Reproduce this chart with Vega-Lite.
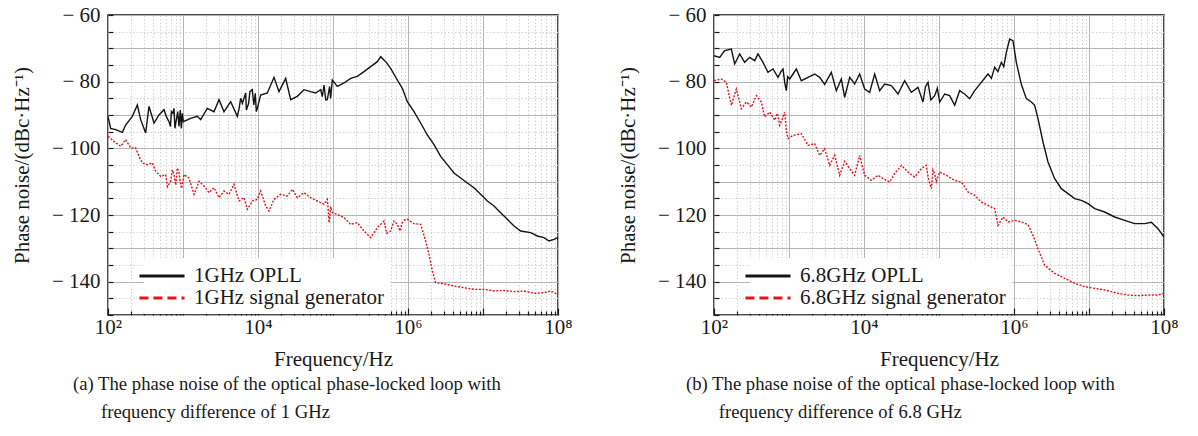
{
  "$schema": "https://vega.github.io/schema/vega-lite/v6.json",
  "background": "white",
  "padding": {"left": 10, "top": 3, "right": 0, "bottom": 0},
  "spacing": 43,
  "resolve": {"scale": {"color": "independent", "strokeDash": "independent"}, "legend": {"color": "independent", "strokeDash": "independent"}},
  "config": {
    "view": {"stroke": "#111111", "strokeWidth": 1.5},
    "font": "Liberation Serif",
    "axis": {
      "labelFont": "Liberation Serif", "labelFontSize": 21, "labelColor": "#1a1a1a",
      "titleFont": "Liberation Serif", "titleFontSize": 21, "titleFontWeight": "normal", "titleColor": "#1a1a1a",
      "domain": false, "labelOverlap": false, "labelBound": false, "labelFlush": false,
      "tickColor": "#1a1a1a", "tickWidth": 1.2
    },
    "legend": {
      "orient": "none", "legendX": 36, "legendY": 243, "fillColor": "white", "padding": 6,
      "symbolType": "M-2.2,0H2.2", "symbolSize": 420, "symbolStrokeWidth": 3, "symbolOpacity": 1,
      "labelFont": "Liberation Serif", "labelFontSize": 21, "labelColor": "#1a1a1a",
      "labelOffset": 20, "rowPadding": 0, "title": null, "labelLimit": 400
    },
    "title": {"font": "Liberation Serif", "fontSize": 18.7, "fontWeight": "normal", "color": "#1a1a1a"}
  },
  "datasets": {
    "a": [
      {"f":100,"pn":-90.4,"s":"1GHz OPLL"},{"f":108.5,"pn":-94,"s":"1GHz OPLL"},{"f":126.6,"pn":-94.4,"s":"1GHz OPLL"},{"f":155.3,"pn":-95.2,"s":"1GHz OPLL"},{"f":172,"pn":-93,"s":"1GHz OPLL"},{"f":211.1,"pn":-90.4,"s":"1GHz OPLL"},{"f":246.1,"pn":-87,"s":"1GHz OPLL"},{"f":272.6,"pn":-91.4,"s":"1GHz OPLL"},{"f":317.8,"pn":-95.4,"s":"1GHz OPLL"},{"f":352.2,"pn":-87.4,"s":"1GHz OPLL"},{"f":410.6,"pn":-92.4,"s":"1GHz OPLL"},{"f":478.6,"pn":-90,"s":"1GHz OPLL"},{"f":558,"pn":-88.4,"s":"1GHz OPLL"},{"f":600,"pn":-90.5,"s":"1GHz OPLL"},{"f":650.6,"pn":-92,"s":"1GHz OPLL"},{"f":680,"pn":-93.5,"s":"1GHz OPLL"},{"f":700,"pn":-89,"s":"1GHz OPLL"},{"f":730,"pn":-89.5,"s":"1GHz OPLL"},{"f":758.6,"pn":-88,"s":"1GHz OPLL"},{"f":780,"pn":-94,"s":"1GHz OPLL"},{"f":800,"pn":-92.5,"s":"1GHz OPLL"},{"f":850,"pn":-89,"s":"1GHz OPLL"},{"f":884.6,"pn":-93.4,"s":"1GHz OPLL"},{"f":920,"pn":-88.5,"s":"1GHz OPLL"},{"f":950,"pn":-94,"s":"1GHz OPLL"},{"f":980,"pn":-89.5,"s":"1GHz OPLL"},{"f":1010,"pn":-92,"s":"1GHz OPLL"},{"f":1266,"pn":-91,"s":"1GHz OPLL"},{"f":1553,"pn":-90.4,"s":"1GHz OPLL"},{"f":1720,"pn":-91.4,"s":"1GHz OPLL"},{"f":2111,"pn":-88,"s":"1GHz OPLL"},{"f":2590,"pn":-89,"s":"1GHz OPLL"},{"f":3020,"pn":-85.4,"s":"1GHz OPLL"},{"f":3522,"pn":-89,"s":"1GHz OPLL"},{"f":4321,"pn":-86,"s":"1GHz OPLL"},{"f":5303,"pn":-90.4,"s":"1GHz OPLL"},{"f":5600,"pn":-88,"s":"1GHz OPLL"},{"f":5872,"pn":-85,"s":"1GHz OPLL"},{"f":6200,"pn":-86.5,"s":"1GHz OPLL"},{"f":6848,"pn":-83.4,"s":"1GHz OPLL"},{"f":7000,"pn":-88.5,"s":"1GHz OPLL"},{"f":7500,"pn":-86.5,"s":"1GHz OPLL"},{"f":7800,"pn":-83,"s":"1GHz OPLL"},{"f":8403,"pn":-82.4,"s":"1GHz OPLL"},{"f":8800,"pn":-87,"s":"1GHz OPLL"},{"f":9200,"pn":-83.5,"s":"1GHz OPLL"},{"f":9500,"pn":-89,"s":"1GHz OPLL"},{"f":9797,"pn":-88,"s":"1GHz OPLL"},{"f":10850,"pn":-84,"s":"1GHz OPLL"},{"f":13320,"pn":-83.4,"s":"1GHz OPLL"},{"f":16340,"pn":-78.7,"s":"1GHz OPLL"},{"f":19050,"pn":-83,"s":"1GHz OPLL"},{"f":23380,"pn":-79,"s":"1GHz OPLL"},{"f":27260,"pn":-85.4,"s":"1GHz OPLL"},{"f":33450,"pn":-84.4,"s":"1GHz OPLL"},{"f":41060,"pn":-82.4,"s":"1GHz OPLL"},{"f":50370,"pn":-83,"s":"1GHz OPLL"},{"f":58720,"pn":-83.4,"s":"1GHz OPLL"},{"f":68480,"pn":-82.4,"s":"1GHz OPLL"},{"f":72000,"pn":-84.5,"s":"1GHz OPLL"},{"f":76000,"pn":-81,"s":"1GHz OPLL"},{"f":80000,"pn":-85.5,"s":"1GHz OPLL"},{"f":84030,"pn":-85.4,"s":"1GHz OPLL"},{"f":90000,"pn":-81.5,"s":"1GHz OPLL"},{"f":93000,"pn":-85,"s":"1GHz OPLL"},{"f":97970,"pn":-79.5,"s":"1GHz OPLL"},{"f":114200,"pn":-81.4,"s":"1GHz OPLL"},{"f":140200,"pn":-80.4,"s":"1GHz OPLL"},{"f":172000,"pn":-79,"s":"1GHz OPLL"},{"f":211100,"pn":-78.4,"s":"1GHz OPLL"},{"f":259000,"pn":-77,"s":"1GHz OPLL"},{"f":317800,"pn":-75.5,"s":"1GHz OPLL"},{"f":390000,"pn":-74,"s":"1GHz OPLL"},{"f":432100,"pn":-72.5,"s":"1GHz OPLL"},{"f":503700,"pn":-74,"s":"1GHz OPLL"},{"f":587200,"pn":-76,"s":"1GHz OPLL"},{"f":720800,"pn":-79.5,"s":"1GHz OPLL"},{"f":840300,"pn":-82,"s":"1GHz OPLL"},{"f":979700,"pn":-86,"s":"1GHz OPLL"},{"f":1202000,"pn":-89,"s":"1GHz OPLL"},{"f":1475000,"pn":-92.4,"s":"1GHz OPLL"},{"f":1810000,"pn":-96,"s":"1GHz OPLL"},{"f":2222000,"pn":-98.9,"s":"1GHz OPLL"},{"f":2726000,"pn":-102.4,"s":"1GHz OPLL"},{"f":3345000,"pn":-104.9,"s":"1GHz OPLL"},{"f":4106000,"pn":-107.4,"s":"1GHz OPLL"},{"f":5037000,"pn":-108.9,"s":"1GHz OPLL"},{"f":6182000,"pn":-110.4,"s":"1GHz OPLL"},{"f":7586000,"pn":-111.8,"s":"1GHz OPLL"},{"f":9310000,"pn":-113.8,"s":"1GHz OPLL"},{"f":11420000,"pn":-115.8,"s":"1GHz OPLL"},{"f":14020000,"pn":-117.3,"s":"1GHz OPLL"},{"f":17200000,"pn":-119.3,"s":"1GHz OPLL"},{"f":21110000,"pn":-121.3,"s":"1GHz OPLL"},{"f":25900000,"pn":-123.3,"s":"1GHz OPLL"},{"f":31780000,"pn":-124.8,"s":"1GHz OPLL"},{"f":43210000,"pn":-125.3,"s":"1GHz OPLL"},{"f":53030000,"pn":-126.3,"s":"1GHz OPLL"},{"f":65060000,"pn":-126.8,"s":"1GHz OPLL"},{"f":75860000,"pn":-127.8,"s":"1GHz OPLL"},{"f":88460000,"pn":-127.3,"s":"1GHz OPLL"},{"f":97970000,"pn":-126.8,"s":"1GHz OPLL"},{"f":100000000,"pn":-127.5,"s":"1GHz OPLL"},
      {"f":100,"pn":-96.4,"s":"1GHz signal generator"},{"f":120.2,"pn":-97.9,"s":"1GHz signal generator"},{"f":147.5,"pn":-99.4,"s":"1GHz signal generator"},{"f":172,"pn":-97.4,"s":"1GHz signal generator"},{"f":200.5,"pn":-99.9,"s":"1GHz signal generator"},{"f":233.8,"pn":-99.9,"s":"1GHz signal generator"},{"f":259,"pn":-102.4,"s":"1GHz signal generator"},{"f":287,"pn":-104.4,"s":"1GHz signal generator"},{"f":334.5,"pn":-104.9,"s":"1GHz signal generator"},{"f":390,"pn":-104.4,"s":"1GHz signal generator"},{"f":432.1,"pn":-106.9,"s":"1GHz signal generator"},{"f":503.7,"pn":-108.4,"s":"1GHz signal generator"},{"f":587.2,"pn":-107.9,"s":"1GHz signal generator"},{"f":620,"pn":-111.5,"s":"1GHz signal generator"},{"f":684.8,"pn":-109.9,"s":"1GHz signal generator"},{"f":720,"pn":-106.5,"s":"1GHz signal generator"},{"f":758.6,"pn":-107.9,"s":"1GHz signal generator"},{"f":800,"pn":-111,"s":"1GHz signal generator"},{"f":840.3,"pn":-105.9,"s":"1GHz signal generator"},{"f":880,"pn":-107,"s":"1GHz signal generator"},{"f":931,"pn":-110.8,"s":"1GHz signal generator"},{"f":960,"pn":-112,"s":"1GHz signal generator"},{"f":1031,"pn":-107.9,"s":"1GHz signal generator"},{"f":1202,"pn":-108.9,"s":"1GHz signal generator"},{"f":1402,"pn":-113.8,"s":"1GHz signal generator"},{"f":1634,"pn":-109.9,"s":"1GHz signal generator"},{"f":1905,"pn":-111.3,"s":"1GHz signal generator"},{"f":2222,"pn":-113.3,"s":"1GHz signal generator"},{"f":2590,"pn":-111.8,"s":"1GHz signal generator"},{"f":3020,"pn":-114.8,"s":"1GHz signal generator"},{"f":3522,"pn":-112.8,"s":"1GHz signal generator"},{"f":4106,"pn":-113.8,"s":"1GHz signal generator"},{"f":4786,"pn":-110.8,"s":"1GHz signal generator"},{"f":5580,"pn":-115.8,"s":"1GHz signal generator"},{"f":6506,"pn":-114.8,"s":"1GHz signal generator"},{"f":7208,"pn":-118.3,"s":"1GHz signal generator"},{"f":8403,"pn":-115.8,"s":"1GHz signal generator"},{"f":9797,"pn":-115.3,"s":"1GHz signal generator"},{"f":10850,"pn":-112.8,"s":"1GHz signal generator"},{"f":12660,"pn":-117.3,"s":"1GHz signal generator"},{"f":14020,"pn":-118.8,"s":"1GHz signal generator"},{"f":16340,"pn":-115.3,"s":"1GHz signal generator"},{"f":20050,"pn":-113.8,"s":"1GHz signal generator"},{"f":24610,"pn":-114.3,"s":"1GHz signal generator"},{"f":28700,"pn":-112.3,"s":"1GHz signal generator"},{"f":33450,"pn":-114.8,"s":"1GHz signal generator"},{"f":41060,"pn":-113.3,"s":"1GHz signal generator"},{"f":50370,"pn":-114.8,"s":"1GHz signal generator"},{"f":61820,"pn":-115.8,"s":"1GHz signal generator"},{"f":75860,"pn":-116.8,"s":"1GHz signal generator"},{"f":84030,"pn":-115.3,"s":"1GHz signal generator"},{"f":86000,"pn":-118,"s":"1GHz signal generator"},{"f":88460,"pn":-122.3,"s":"1GHz signal generator"},{"f":90000,"pn":-121.5,"s":"1GHz signal generator"},{"f":93000,"pn":-117.5,"s":"1GHz signal generator"},{"f":97970,"pn":-119.3,"s":"1GHz signal generator"},{"f":114200,"pn":-119.8,"s":"1GHz signal generator"},{"f":140200,"pn":-120.8,"s":"1GHz signal generator"},{"f":172000,"pn":-122.8,"s":"1GHz signal generator"},{"f":211100,"pn":-122.3,"s":"1GHz signal generator"},{"f":259000,"pn":-124.8,"s":"1GHz signal generator"},{"f":317800,"pn":-126.8,"s":"1GHz signal generator"},{"f":390000,"pn":-123.8,"s":"1GHz signal generator"},{"f":478600,"pn":-121.8,"s":"1GHz signal generator"},{"f":520000,"pn":-125.5,"s":"1GHz signal generator"},{"f":587200,"pn":-124.8,"s":"1GHz signal generator"},{"f":650000,"pn":-121.8,"s":"1GHz signal generator"},{"f":720800,"pn":-122.8,"s":"1GHz signal generator"},{"f":780000,"pn":-124.8,"s":"1GHz signal generator"},{"f":840300,"pn":-122.3,"s":"1GHz signal generator"},{"f":900000,"pn":-121.5,"s":"1GHz signal generator"},{"f":979700,"pn":-121.3,"s":"1GHz signal generator"},{"f":1202000,"pn":-122.6,"s":"1GHz signal generator"},{"f":1475000,"pn":-122.8,"s":"1GHz signal generator"},{"f":1720000,"pn":-127.8,"s":"1GHz signal generator"},{"f":1905000,"pn":-131.8,"s":"1GHz signal generator"},{"f":2111000,"pn":-136.8,"s":"1GHz signal generator"},{"f":2338000,"pn":-140.3,"s":"1GHz signal generator"},{"f":3020000,"pn":-140.6,"s":"1GHz signal generator"},{"f":4106000,"pn":-141.3,"s":"1GHz signal generator"},{"f":5580000,"pn":-141.8,"s":"1GHz signal generator"},{"f":7586000,"pn":-142.3,"s":"1GHz signal generator"},{"f":10310000,"pn":-142.3,"s":"1GHz signal generator"},{"f":14020000,"pn":-142.8,"s":"1GHz signal generator"},{"f":19050000,"pn":-142.6,"s":"1GHz signal generator"},{"f":25900000,"pn":-143,"s":"1GHz signal generator"},{"f":35220000,"pn":-142.8,"s":"1GHz signal generator"},{"f":47860000,"pn":-143.5,"s":"1GHz signal generator"},{"f":65060000,"pn":-143.3,"s":"1GHz signal generator"},{"f":79860000,"pn":-142.8,"s":"1GHz signal generator"},{"f":97970000,"pn":-143.7,"s":"1GHz signal generator"},{"f":100000000,"pn":-143.5,"s":"1GHz signal generator"}
    ],
    "b": [
      {"f":100,"pn":-72.2,"s":"6.8GHz OPLL"},{"f":119,"pn":-72.7,"s":"6.8GHz OPLL"},{"f":138.8,"pn":-70.7,"s":"6.8GHz OPLL"},{"f":170.3,"pn":-70.2,"s":"6.8GHz OPLL"},{"f":188.6,"pn":-74.7,"s":"6.8GHz OPLL"},{"f":219.9,"pn":-71.7,"s":"6.8GHz OPLL"},{"f":256.4,"pn":-74.2,"s":"6.8GHz OPLL"},{"f":298.9,"pn":-72.7,"s":"6.8GHz OPLL"},{"f":348.5,"pn":-73.7,"s":"6.8GHz OPLL"},{"f":386.1,"pn":-71.7,"s":"6.8GHz OPLL"},{"f":450.2,"pn":-74.2,"s":"6.8GHz OPLL"},{"f":524.8,"pn":-77.2,"s":"6.8GHz OPLL"},{"f":611.8,"pn":-76.2,"s":"6.8GHz OPLL"},{"f":713.4,"pn":-78.7,"s":"6.8GHz OPLL"},{"f":780,"pn":-77,"s":"6.8GHz OPLL"},{"f":831.8,"pn":-76.2,"s":"6.8GHz OPLL"},{"f":880,"pn":-80.5,"s":"6.8GHz OPLL"},{"f":921.3,"pn":-82.7,"s":"6.8GHz OPLL"},{"f":960,"pn":-78.5,"s":"6.8GHz OPLL"},{"f":1021,"pn":-79.2,"s":"6.8GHz OPLL"},{"f":1253,"pn":-76.2,"s":"6.8GHz OPLL"},{"f":1460,"pn":-79.7,"s":"6.8GHz OPLL"},{"f":1792,"pn":-78.7,"s":"6.8GHz OPLL"},{"f":2199,"pn":-77.7,"s":"6.8GHz OPLL"},{"f":2564,"pn":-78.7,"s":"6.8GHz OPLL"},{"f":2989,"pn":-80.8,"s":"6.8GHz OPLL"},{"f":3668,"pn":-77.2,"s":"6.8GHz OPLL"},{"f":4276,"pn":-82.7,"s":"6.8GHz OPLL"},{"f":4986,"pn":-79.2,"s":"6.8GHz OPLL"},{"f":5524,"pn":-84.7,"s":"6.8GHz OPLL"},{"f":6442,"pn":-78.7,"s":"6.8GHz OPLL"},{"f":7509,"pn":-80.7,"s":"6.8GHz OPLL"},{"f":8753,"pn":-77.7,"s":"6.8GHz OPLL"},{"f":10210,"pn":-82.2,"s":"6.8GHz OPLL"},{"f":11900,"pn":-83.2,"s":"6.8GHz OPLL"},{"f":13880,"pn":-77.7,"s":"6.8GHz OPLL"},{"f":16180,"pn":-82.7,"s":"6.8GHz OPLL"},{"f":18860,"pn":-80.7,"s":"6.8GHz OPLL"},{"f":23140,"pn":-81.2,"s":"6.8GHz OPLL"},{"f":28400,"pn":-83.7,"s":"6.8GHz OPLL"},{"f":34850,"pn":-79.7,"s":"6.8GHz OPLL"},{"f":42760,"pn":-83.2,"s":"6.8GHz OPLL"},{"f":52480,"pn":-81.7,"s":"6.8GHz OPLL"},{"f":61180,"pn":-86.1,"s":"6.8GHz OPLL"},{"f":66000,"pn":-81.5,"s":"6.8GHz OPLL"},{"f":71340,"pn":-80.2,"s":"6.8GHz OPLL"},{"f":78000,"pn":-85.5,"s":"6.8GHz OPLL"},{"f":87530,"pn":-84.2,"s":"6.8GHz OPLL"},{"f":95000,"pn":-82,"s":"6.8GHz OPLL"},{"f":102100,"pn":-86.1,"s":"6.8GHz OPLL"},{"f":119000,"pn":-83.7,"s":"6.8GHz OPLL"},{"f":138800,"pn":-84.2,"s":"6.8GHz OPLL"},{"f":161800,"pn":-87.1,"s":"6.8GHz OPLL"},{"f":188600,"pn":-82.7,"s":"6.8GHz OPLL"},{"f":219900,"pn":-83.7,"s":"6.8GHz OPLL"},{"f":256400,"pn":-85.1,"s":"6.8GHz OPLL"},{"f":298900,"pn":-82.7,"s":"6.8GHz OPLL"},{"f":366800,"pn":-80.2,"s":"6.8GHz OPLL"},{"f":450200,"pn":-77.7,"s":"6.8GHz OPLL"},{"f":500000,"pn":-79,"s":"6.8GHz OPLL"},{"f":552400,"pn":-75.7,"s":"6.8GHz OPLL"},{"f":610000,"pn":-77,"s":"6.8GHz OPLL"},{"f":678000,"pn":-74.2,"s":"6.8GHz OPLL"},{"f":730000,"pn":-75.5,"s":"6.8GHz OPLL"},{"f":790400,"pn":-71.2,"s":"6.8GHz OPLL"},{"f":875300,"pn":-67.2,"s":"6.8GHz OPLL"},{"f":969800,"pn":-67.7,"s":"6.8GHz OPLL"},{"f":1074000,"pn":-74.2,"s":"6.8GHz OPLL"},{"f":1253000,"pn":-80.8,"s":"6.8GHz OPLL"},{"f":1460000,"pn":-85.1,"s":"6.8GHz OPLL"},{"f":1703000,"pn":-86.1,"s":"6.8GHz OPLL"},{"f":1886000,"pn":-87.1,"s":"6.8GHz OPLL"},{"f":2089000,"pn":-91.1,"s":"6.8GHz OPLL"},{"f":2436000,"pn":-98.1,"s":"6.8GHz OPLL"},{"f":2840000,"pn":-104.1,"s":"6.8GHz OPLL"},{"f":3485000,"pn":-109.1,"s":"6.8GHz OPLL"},{"f":4276000,"pn":-112.1,"s":"6.8GHz OPLL"},{"f":5248000,"pn":-113.6,"s":"6.8GHz OPLL"},{"f":6442000,"pn":-115.1,"s":"6.8GHz OPLL"},{"f":7904000,"pn":-115.6,"s":"6.8GHz OPLL"},{"f":9698000,"pn":-116.6,"s":"6.8GHz OPLL"},{"f":11900000,"pn":-118.1,"s":"6.8GHz OPLL"},{"f":16180000,"pn":-119.1,"s":"6.8GHz OPLL"},{"f":21990000,"pn":-120.6,"s":"6.8GHz OPLL"},{"f":29890000,"pn":-121.6,"s":"6.8GHz OPLL"},{"f":40620000,"pn":-122.6,"s":"6.8GHz OPLL"},{"f":55240000,"pn":-122.6,"s":"6.8GHz OPLL"},{"f":67800000,"pn":-122.2,"s":"6.8GHz OPLL"},{"f":83180000,"pn":-124.1,"s":"6.8GHz OPLL"},{"f":100000000,"pn":-126.6,"s":"6.8GHz OPLL"},
      {"f":100,"pn":-79.7,"s":"6.8GHz signal generator"},{"f":125.3,"pn":-79.2,"s":"6.8GHz signal generator"},{"f":146,"pn":-80.2,"s":"6.8GHz signal generator"},{"f":170.3,"pn":-87.1,"s":"6.8GHz signal generator"},{"f":198.5,"pn":-82.2,"s":"6.8GHz signal generator"},{"f":231.4,"pn":-88.1,"s":"6.8GHz signal generator"},{"f":269.9,"pn":-86.1,"s":"6.8GHz signal generator"},{"f":314.6,"pn":-87.6,"s":"6.8GHz signal generator"},{"f":366.8,"pn":-84.2,"s":"6.8GHz signal generator"},{"f":427.6,"pn":-86.1,"s":"6.8GHz signal generator"},{"f":473.7,"pn":-90.6,"s":"6.8GHz signal generator"},{"f":552.4,"pn":-89.1,"s":"6.8GHz signal generator"},{"f":644.2,"pn":-91.6,"s":"6.8GHz signal generator"},{"f":700,"pn":-89.5,"s":"6.8GHz signal generator"},{"f":750.9,"pn":-93.1,"s":"6.8GHz signal generator"},{"f":820,"pn":-91,"s":"6.8GHz signal generator"},{"f":875.3,"pn":-89.1,"s":"6.8GHz signal generator"},{"f":920,"pn":-94.5,"s":"6.8GHz signal generator"},{"f":969.8,"pn":-97.1,"s":"6.8GHz signal generator"},{"f":1131,"pn":-96.1,"s":"6.8GHz signal generator"},{"f":1460,"pn":-95.6,"s":"6.8GHz signal generator"},{"f":1792,"pn":-99.1,"s":"6.8GHz signal generator"},{"f":2199,"pn":-98.6,"s":"6.8GHz signal generator"},{"f":2564,"pn":-102.1,"s":"6.8GHz signal generator"},{"f":2989,"pn":-100.1,"s":"6.8GHz signal generator"},{"f":3485,"pn":-105.1,"s":"6.8GHz signal generator"},{"f":4062,"pn":-102.1,"s":"6.8GHz signal generator"},{"f":4737,"pn":-108.1,"s":"6.8GHz signal generator"},{"f":5524,"pn":-103.9,"s":"6.8GHz signal generator"},{"f":6442,"pn":-106.1,"s":"6.8GHz signal generator"},{"f":7509,"pn":-108.1,"s":"6.8GHz signal generator"},{"f":8753,"pn":-102.1,"s":"6.8GHz signal generator"},{"f":10210,"pn":-108.1,"s":"6.8GHz signal generator"},{"f":12530,"pn":-109.6,"s":"6.8GHz signal generator"},{"f":15370,"pn":-108.1,"s":"6.8GHz signal generator"},{"f":17920,"pn":-109.1,"s":"6.8GHz signal generator"},{"f":21990,"pn":-110.1,"s":"6.8GHz signal generator"},{"f":25640,"pn":-107.6,"s":"6.8GHz signal generator"},{"f":31460,"pn":-105.1,"s":"6.8GHz signal generator"},{"f":38610,"pn":-107.1,"s":"6.8GHz signal generator"},{"f":47370,"pn":-108.6,"s":"6.8GHz signal generator"},{"f":58130,"pn":-106.1,"s":"6.8GHz signal generator"},{"f":67800,"pn":-105.1,"s":"6.8GHz signal generator"},{"f":72000,"pn":-109,"s":"6.8GHz signal generator"},{"f":79040,"pn":-112.1,"s":"6.8GHz signal generator"},{"f":83000,"pn":-106.5,"s":"6.8GHz signal generator"},{"f":87530,"pn":-107.6,"s":"6.8GHz signal generator"},{"f":92000,"pn":-110,"s":"6.8GHz signal generator"},{"f":102100,"pn":-107.1,"s":"6.8GHz signal generator"},{"f":125300,"pn":-108.1,"s":"6.8GHz signal generator"},{"f":161800,"pn":-109.6,"s":"6.8GHz signal generator"},{"f":198500,"pn":-110.1,"s":"6.8GHz signal generator"},{"f":243600,"pn":-113.1,"s":"6.8GHz signal generator"},{"f":298900,"pn":-114.1,"s":"6.8GHz signal generator"},{"f":366800,"pn":-116.1,"s":"6.8GHz signal generator"},{"f":450200,"pn":-117.1,"s":"6.8GHz signal generator"},{"f":552400,"pn":-118.1,"s":"6.8GHz signal generator"},{"f":611800,"pn":-123.1,"s":"6.8GHz signal generator"},{"f":713400,"pn":-120.6,"s":"6.8GHz signal generator"},{"f":831800,"pn":-122.1,"s":"6.8GHz signal generator"},{"f":1021000,"pn":-121.6,"s":"6.8GHz signal generator"},{"f":1253000,"pn":-122.1,"s":"6.8GHz signal generator"},{"f":1537000,"pn":-122.9,"s":"6.8GHz signal generator"},{"f":1792000,"pn":-126.1,"s":"6.8GHz signal generator"},{"f":2089000,"pn":-130.1,"s":"6.8GHz signal generator"},{"f":2564000,"pn":-135.1,"s":"6.8GHz signal generator"},{"f":3485000,"pn":-137.5,"s":"6.8GHz signal generator"},{"f":4737000,"pn":-139,"s":"6.8GHz signal generator"},{"f":6442000,"pn":-140.5,"s":"6.8GHz signal generator"},{"f":8753000,"pn":-141.5,"s":"6.8GHz signal generator"},{"f":11900000,"pn":-142,"s":"6.8GHz signal generator"},{"f":16180000,"pn":-142.5,"s":"6.8GHz signal generator"},{"f":24360000,"pn":-143.5,"s":"6.8GHz signal generator"},{"f":33110000,"pn":-144,"s":"6.8GHz signal generator"},{"f":45020000,"pn":-144.2,"s":"6.8GHz signal generator"},{"f":61180000,"pn":-144,"s":"6.8GHz signal generator"},{"f":83180000,"pn":-144,"s":"6.8GHz signal generator"},{"f":100000000,"pn":-143.5,"s":"6.8GHz signal generator"}
    ]
  },
  "hconcat": [
    {
      "width": 450, "height": 300,
      "data": {"name": "a"},
      "title": {"text": ["(a) The phase noise of the optical phase-locked loop with", "\u200b\u00a0\u00a0\u00a0\u00a0\u00a0\u00a0frequency difference of 1 GHz"], "orient": "bottom", "anchor": "start", "frame": "group", "dx": -35, "lineHeight": 28, "offset": 6},
      "encoding": {
        "x": {"field": "f", "type": "quantitative", "scale": {"type": "log", "domain": [100, 100000000], "nice": false},
          "axis": {"title": "Frequency/Hz", "titlePadding": 8, "labelPadding": 8,
            "values": [100,200,300,400,500,600,700,800,900,1000,2000,3000,4000,5000,6000,7000,8000,9000,10000,20000,30000,40000,50000,60000,70000,80000,90000,100000,200000,300000,400000,500000,600000,700000,800000,900000,1000000,2000000,3000000,4000000,5000000,6000000,7000000,8000000,9000000,10000000,20000000,30000000,40000000,50000000,60000000,70000000,80000000,90000000,100000000],
            "labelExpr": "abs(log(datum.value)/LN10 - round(log(datum.value)/LN10)) < 0.000001 && round(log(datum.value)/LN10) % 2 == 0 ? '10' + ['⁰','¹','²','³','⁴','⁵','⁶','⁷','⁸'][round(log(datum.value)/LN10)] : ''",
            "grid": true,
            "gridColor": {"condition": {"test": "abs(log(datum.value)/LN10 - round(log(datum.value)/LN10)) < 0.000001", "value": "#b5b5b5"}, "value": "#d2d2d2"},
            "gridDash": {"condition": {"test": "abs(log(datum.value)/LN10 - round(log(datum.value)/LN10)) < 0.000001", "value": []}, "value": [1.5, 2]},
            "tickSize": {"condition": {"test": "abs(log(datum.value)/LN10 - round(log(datum.value)/LN10)) < 0.000001", "value": -7}, "value": -4}}},
        "y": {"field": "pn", "type": "quantitative", "scale": {"domain": [-150, -60], "nice": false, "zero": false},
          "axis": {"title": "Phase noise/(dBc·Hz⁻¹)", "titlePadding": 19, "labelPadding": 13,
            "values": [-150,-145,-140,-135,-130,-125,-120,-115,-110,-105,-100,-95,-90,-85,-80,-75,-70,-65,-60],
            "labelExpr": "datum.value % 20 == 0 ? '−\u00a0' + abs(datum.value) : ''",
            "grid": true,
            "gridColor": {"condition": {"test": "datum.value % 10 == 0", "value": "#b5b5b5"}, "value": "#d2d2d2"},
            "gridDash": {"condition": {"test": "datum.value % 10 == 0", "value": []}, "value": [1.5, 2]},
            "tickSize": -5}}
      },
      "layer": [
        {"transform": [{"filter": "datum.s == '1GHz OPLL'"}], "mark": {"type": "line", "color": "#141414", "strokeWidth": 1.4, "clip": true}},
        {"transform": [{"filter": "datum.s == '1GHz signal generator'"}], "mark": {"type": "line", "color": "#e3141c", "strokeWidth": 1.4, "strokeDash": [2, 1.5], "clip": true}},
        {"mark": {"type": "line", "strokeWidth": 3, "opacity": 0, "clip": true},
          "encoding": {
            "color": {"field": "s", "type": "nominal", "scale": {"domain": ["1GHz OPLL", "1GHz signal generator"], "range": ["#141414", "#e3141c"]}, "legend": {"title": null}},
            "strokeDash": {"field": "s", "type": "nominal", "scale": {"domain": ["1GHz OPLL", "1GHz signal generator"], "range": [[1, 0], [9, 5]]}, "legend": {"title": null}}
          }}
      ]
    },
    {
      "width": 450, "height": 300,
      "data": {"name": "b"},
      "title": {"text": ["(b) The phase noise of the optical phase-locked loop with", "\u200b\u00a0\u00a0\u00a0\u00a0\u00a0\u00a0\u00a0frequency difference of 6.8 GHz"], "orient": "bottom", "anchor": "start", "frame": "group", "dx": -28, "lineHeight": 28, "offset": 6},
      "encoding": {
        "x": {"field": "f", "type": "quantitative", "scale": {"type": "log", "domain": [100, 100000000], "nice": false},
          "axis": {"title": "Frequency/Hz", "titlePadding": 8, "labelPadding": 8,
            "values": [100,200,300,400,500,600,700,800,900,1000,2000,3000,4000,5000,6000,7000,8000,9000,10000,20000,30000,40000,50000,60000,70000,80000,90000,100000,200000,300000,400000,500000,600000,700000,800000,900000,1000000,2000000,3000000,4000000,5000000,6000000,7000000,8000000,9000000,10000000,20000000,30000000,40000000,50000000,60000000,70000000,80000000,90000000,100000000],
            "labelExpr": "abs(log(datum.value)/LN10 - round(log(datum.value)/LN10)) < 0.000001 && round(log(datum.value)/LN10) % 2 == 0 ? '10' + ['⁰','¹','²','³','⁴','⁵','⁶','⁷','⁸'][round(log(datum.value)/LN10)] : ''",
            "grid": true,
            "gridColor": {"condition": {"test": "abs(log(datum.value)/LN10 - round(log(datum.value)/LN10)) < 0.000001", "value": "#b5b5b5"}, "value": "#d2d2d2"},
            "gridDash": {"condition": {"test": "abs(log(datum.value)/LN10 - round(log(datum.value)/LN10)) < 0.000001", "value": []}, "value": [1.5, 2]},
            "tickSize": {"condition": {"test": "abs(log(datum.value)/LN10 - round(log(datum.value)/LN10)) < 0.000001", "value": -7}, "value": -4}}},
        "y": {"field": "pn", "type": "quantitative", "scale": {"domain": [-150, -60], "nice": false, "zero": false},
          "axis": {"title": "Phase noise/(dBc·Hz⁻¹)", "titlePadding": 19, "labelPadding": 13,
            "values": [-150,-145,-140,-135,-130,-125,-120,-115,-110,-105,-100,-95,-90,-85,-80,-75,-70,-65,-60],
            "labelExpr": "datum.value % 20 == 0 ? '−\u00a0' + abs(datum.value) : ''",
            "grid": true,
            "gridColor": {"condition": {"test": "datum.value % 10 == 0", "value": "#b5b5b5"}, "value": "#d2d2d2"},
            "gridDash": {"condition": {"test": "datum.value % 10 == 0", "value": []}, "value": [1.5, 2]},
            "tickSize": -5}}
      },
      "layer": [
        {"transform": [{"filter": "datum.s == '6.8GHz OPLL'"}], "mark": {"type": "line", "color": "#141414", "strokeWidth": 1.4, "clip": true}},
        {"transform": [{"filter": "datum.s == '6.8GHz signal generator'"}], "mark": {"type": "line", "color": "#e3141c", "strokeWidth": 1.4, "strokeDash": [2, 1.5], "clip": true}},
        {"mark": {"type": "line", "strokeWidth": 3, "opacity": 0, "clip": true},
          "encoding": {
            "color": {"field": "s", "type": "nominal", "scale": {"domain": ["6.8GHz OPLL", "6.8GHz signal generator"], "range": ["#141414", "#e3141c"]}, "legend": {"title": null}},
            "strokeDash": {"field": "s", "type": "nominal", "scale": {"domain": ["6.8GHz OPLL", "6.8GHz signal generator"], "range": [[1, 0], [9, 5]]}, "legend": {"title": null}}
          }}
      ]
    }
  ]
}
